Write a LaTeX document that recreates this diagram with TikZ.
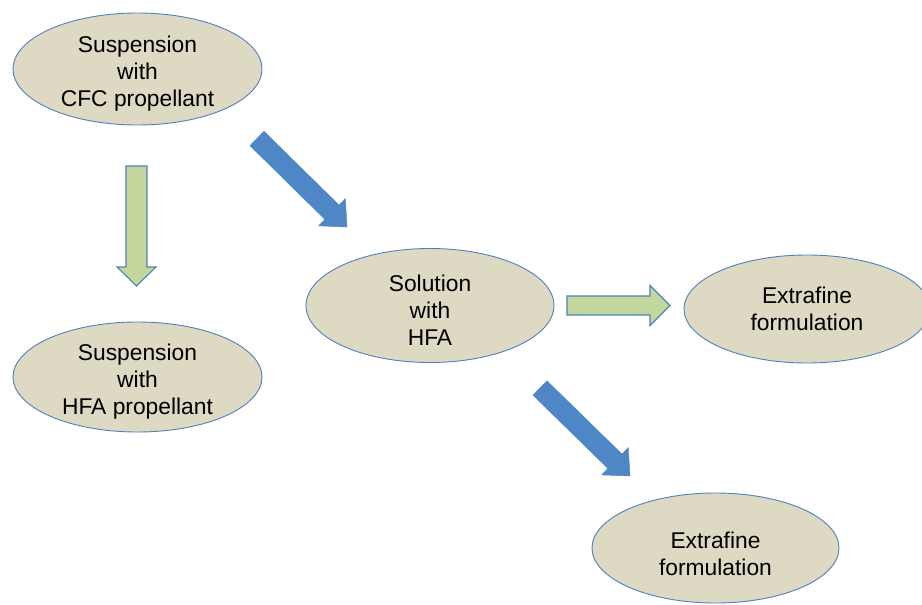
\documentclass[tikz,border=0pt]{standalone}
\usepackage{fontspec}
\setmainfont{Liberation Sans}
\usetikzlibrary{shapes.geometric,calc}
\definecolor{ellfill}{HTML}{DDD9C3}
\definecolor{edgeblue}{HTML}{4F81BD}
\definecolor{arrblue}{HTML}{4F86C6}
\definecolor{arrgreen}{HTML}{C3D69B}
\newcommand\topgap{\rule{0pt}{25pt}}
\tikzset{
  bubble/.style={ellipse, draw=edgeblue, line width=0.9pt, fill=ellfill,
    inner xsep=0pt, inner ysep=-14pt, align=center, font=\fontsize{22.8}{27}\selectfont},
  bluearrow/.style={fill=arrblue, draw=arrblue, line width=0.5pt},
  greenarrow/.style={fill=arrgreen, draw=edgeblue, line width=1.1pt, line join=miter}
}
% #1 style, #2 tail, #3 tip, #4 shaft half width, #5 head half width, #6 head length
\newcommand\blockarr[6]{%
  \coordinate (hb) at ($(#3)!#6!(#2)$);
  \draw[#1] ($(#2)!#4!90:(#3)$) -- ($(hb)!#4!90:(#3)$) -- ($(hb)!#5!90:(#3)$)
    -- (#3) -- ($(hb)!#5!-90:(#3)$) -- ($(hb)!#4!-90:(#3)$) -- ($(#2)!#4!-90:(#3)$) -- cycle;
}
\begin{document}
\begin{tikzpicture}[x=1pt,y=-1pt]
\useasboundingbox (0,0) rectangle (922,605);
\clip (0,0) rectangle (922,605);
\node[bubble, minimum width=249pt, minimum height=112pt] (cfc) at (137.5,69) {\topgap Suspension\\with\\CFC propellant};
\node[bubble, minimum width=249pt, minimum height=110pt] (hfasus) at (137.5,377) {\topgap Suspension\\with\\HFA propellant};
\node[bubble, minimum width=248pt, minimum height=114pt] (sol) at (430,305.5) {\topgap Solution\\with\\HFA};
\node[bubble, minimum width=246pt, minimum height=108pt] (ext1) at (807,309) {\rule{0pt}{17pt}Extrafine\\formulation};
\node[bubble, minimum width=247pt, minimum height=110pt] (ext2) at (715.5,548) {\rule{0pt}{28pt}Extrafine\\formulation};
% block arrows
\coordinate (g1t) at (136.5,166); \coordinate (g1h) at (136.5,286);
\blockarr{greenarrow}{g1t}{g1h}{10.5pt}{19.5pt}{19pt}
\coordinate (g2t) at (567,305.5); \coordinate (g2h) at (670,305.5);
\blockarr{greenarrow}{g2t}{g2h}{9.5pt}{20pt}{20pt}
\coordinate (b1t) at (257,138.5); \coordinate (b1h) at (347,227);
\blockarr{bluearrow}{b1t}{b1h}{10pt}{19pt}{21pt}
\coordinate (b2t) at (540,388); \coordinate (b2h) at (630,476);
\blockarr{bluearrow}{b2t}{b2h}{10pt}{19pt}{21pt}
\end{tikzpicture}
\end{document}
